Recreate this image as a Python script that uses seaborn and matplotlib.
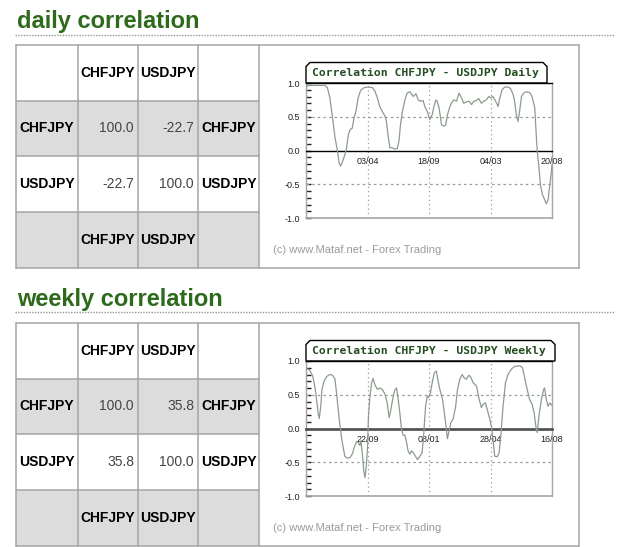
import matplotlib
matplotlib.use("Agg")
import matplotlib.pyplot as plt
import seaborn as sns
import pandas as pd
from matplotlib.patches import Rectangle, Polygon
from matplotlib.ticker import MultipleLocator

# ---------------- data ----------------
pairs = ["CHFJPY", "USDJPY"]
daily_corr = [[100.0, -22.7], [-22.7, 100.0]]
weekly_corr = [[100.0, 35.8], [35.8, 100.0]]

x_ticks = [25, 50, 75, 100]
daily_tick_labels = ["03/04", "18/09", "04/03", "20/08"]
weekly_tick_labels = ["22/09", "08/01", "28/04", "16/08"]
y_ticks = [-1.0, -0.5, 0.0, 0.5, 1.0]
y_tick_labels = ["-1.0", "-0.5", "0.0", "0.5", "1.0"]

daily_x = [0, 1.6, 7.7, 8.7, 9.7, 10.7, 11.8, 12.7, 13.5, 14.1,
           14.9, 15.8, 16.5, 17.2, 17.9, 18.8, 19.5, 20.3, 21.2, 22.2,
           23.5, 25.3, 27.1, 28.0, 29.0, 30.0, 31.0, 32.1, 32.7, 33.4,
           34.1, 35.2, 36.1, 37.1, 37.8, 38.4, 39.2, 40.2, 41.1, 42.2,
           43.6, 44.7, 45.6, 46.5, 47.6, 48.3, 49.3, 50.3, 51.3, 52.0,
           52.8, 53.3, 54.1, 55.1, 56.0, 56.8, 57.5, 58.5, 59.1, 60.1,
           61.2, 62.2, 63.2, 64.1, 65.2, 66.3, 67.3, 68.2, 69.3, 70.2,
           71.3, 72.3, 73.3, 74.3, 75.1, 76.0, 77.1, 78.1, 78.8, 79.7,
           80.8, 82.1, 83.1, 84.2, 84.8, 85.5, 86.2, 86.9, 87.6, 88.5,
           89.6, 90.9, 91.9, 93.0, 93.6, 94.0, 94.7, 95.3, 96.1, 97.0,
           97.7, 98.4, 99.1, 99.6, 100]
daily_y = [0.95, 0.965, 0.965, 0.93, 0.78, 0.51, 0.19, 0.01, -0.19, -0.23,
           -0.16, -0.06, 0.04, 0.23, 0.31, 0.33, 0.48, 0.58, 0.78, 0.89,
           0.93, 0.94, 0.93, 0.88, 0.78, 0.65, 0.58, 0.51, 0.43, 0.21,
           0.04, 0.04, 0.02, 0.03, 0.14, 0.38, 0.58, 0.75, 0.85, 0.87,
           0.80, 0.84, 0.75, 0.73, 0.74, 0.65, 0.58, 0.46, 0.53, 0.65,
           0.75, 0.73, 0.63, 0.38, 0.36, 0.38, 0.53, 0.65, 0.70, 0.75,
           0.73, 0.85, 0.78, 0.70, 0.72, 0.73, 0.68, 0.73, 0.74, 0.77,
           0.70, 0.73, 0.75, 0.80, 0.78, 0.80, 0.73, 0.65, 0.78, 0.90,
           0.94, 0.94, 0.92, 0.83, 0.73, 0.53, 0.43, 0.60, 0.80, 0.85,
           0.87, 0.86, 0.80, 0.63, 0.23, -0.01, -0.26, -0.51, -0.65, -0.73,
           -0.79, -0.73, -0.51, -0.36, -0.21]

weekly_x = [0, 1.4, 2.7, 3.7, 4.3, 5.0, 5.4, 6.0, 6.5, 7.3,
            8.4, 9.7, 10.8, 11.8, 12.4, 13.1, 13.8, 14.5, 15.2, 15.8,
            16.8, 17.9, 18.8, 19.6, 20.6, 21.2, 21.9, 22.3, 22.9, 23.5,
            24.0, 24.5, 25.0, 25.4, 26.0, 26.7, 27.3, 28.0, 29.0, 30.0,
            31.0, 32.1, 33.0, 33.8, 34.4, 35.2, 36.0, 36.8, 37.5, 38.2,
            38.8, 39.5, 40.2, 40.9, 41.5, 42.2, 42.9, 43.6, 44.5, 45.3,
            46.3, 47.2, 47.9, 48.6, 49.3, 49.9, 50.6, 51.4, 52.2, 53.0,
            53.7, 54.4, 55.5, 56.4, 57.5, 58.2, 58.9, 59.8, 60.8, 61.6,
            62.5, 63.5, 64.3, 65.2, 66.2, 67.0, 67.9, 69.3, 70.4, 71.3,
            72.0, 72.9, 73.7, 74.7, 75.4, 76.0, 76.7, 77.7, 78.5, 79.2,
            80.1, 81.1, 82.1, 83.5, 84.8, 86.9, 88.0, 88.9, 89.9, 90.9,
            91.9, 92.7, 93.6, 94.0, 94.7, 95.7, 96.6, 97.0, 97.7, 98.4,
            99.1, 100]
weekly_y = [0.89, 0.87, 0.78, 0.60, 0.43, 0.21, 0.15, 0.33, 0.58, 0.70,
            0.77, 0.80, 0.79, 0.73, 0.53, 0.28, 0.04, -0.15, -0.30, -0.41,
            -0.44, -0.43, -0.38, -0.28, -0.19, -0.21, -0.25, -0.18, -0.37, -0.63,
            -0.73, -0.56, -0.30, 0.19, 0.48, 0.68, 0.74, 0.65, 0.58, 0.60,
            0.58, 0.51, 0.38, 0.16, 0.26, 0.43, 0.56, 0.60, 0.43, 0.21,
            -0.01, -0.10, -0.10, -0.21, -0.33, -0.38, -0.33, -0.36, -0.41, -0.46,
            -0.41, -0.36, -0.06, 0.33, 0.48, 0.46, 0.53, 0.70, 0.83, 0.85,
            0.70, 0.58, 0.43, 0.19, -0.15, -0.03, 0.09, 0.14, 0.32, 0.58,
            0.73, 0.80, 0.75, 0.73, 0.79, 0.76, 0.68, 0.63, 0.43, 0.31,
            0.36, 0.38, 0.28, 0.14, 0.02, -0.15, -0.41, -0.42, -0.36, -0.10,
            0.33, 0.68, 0.80, 0.88, 0.92, 0.93, 0.90, 0.75, 0.58, 0.43,
            0.36, 0.24, -0.01, -0.06, 0.19, 0.43, 0.58, 0.60, 0.43, 0.33,
            0.38, 0.34]

# ---------------- style ----------------
sns.set_style("white")
plt.rcParams["font.family"] = ["Liberation Sans", "DejaVu Sans"]

W, H = 625, 547
fig = plt.figure(figsize=(W / 100, H / 100), dpi=100)
fig.patch.set_facecolor("white")

bg = fig.add_axes([0, 0, 1, 1])
bg.set_xlim(0, W)
bg.set_ylim(H, 0)
bg.axis("off")
bg.set_zorder(0)

GREEN = "#2d6a1b"
GRID = "#9a9a9a"
BORDER = "#a4a4a4"
CELL_GRAY = "#dcdcdc"
LINE_COLOR = "#8c9c8c"
NARROW = ["Liberation Sans Narrow", "Liberation Sans", "DejaVu Sans"]

cols = [16, 78, 138, 198, 259, 579]
row_offsets = [0, 55.5, 111, 166.5, 222.5]

sections = [
    dict(title="daily correlation", base=28, rule=35, top=45, corr=daily_corr,
         x=daily_x, y=daily_y, labels=daily_tick_labels,
         box_title="Correlation CHFJPY - USDJPY Daily", box_right=547,
         zero_color="black", zero_lw=1.0),
    dict(title="weekly correlation", base=306, rule=312, top=323, corr=weekly_corr,
         x=weekly_x, y=weekly_y, labels=weekly_tick_labels,
         box_title="Correlation CHFJPY - USDJPY Weekly", box_right=555,
         zero_color="#555555", zero_lw=2.0),
]

for s in sections:
    # section heading
    bg.text(17, s["base"], s["title"], fontsize=17, fontweight="bold",
            color=GREEN, va="baseline", ha="left")
    bg.plot([15, 615], [s["rule"], s["rule"]], color="#8f998c", lw=1.0,
            linestyle=(0, (1, 1)))

    top = s["top"]
    rows = [top + o for o in row_offsets]

    # cell fills
    for r in range(4):
        for c in range(4):
            fc = CELL_GRAY if r in (1, 3) else "white"
            bg.add_patch(Rectangle((cols[c], rows[r]), cols[c + 1] - cols[c],
                                   rows[r + 1] - rows[r], facecolor=fc,
                                   edgecolor="none", zorder=1))
    # grid lines
    for xx in cols:
        bg.plot([xx, xx], [rows[0], rows[-1]], color=BORDER, lw=1.1, zorder=2)
    for yy in rows[1:-1]:
        bg.plot([cols[0], cols[4]], [yy, yy], color=BORDER, lw=1.1, zorder=2)
    for yy in (rows[0], rows[-1]):
        bg.plot([cols[0], cols[-1]], [yy, yy], color=BORDER, lw=1.1, zorder=2)

    centers = [(rows[i] + rows[i + 1]) / 2 for i in range(4)]
    hdr = dict(fontsize=10, fontweight="bold", color="black", va="center",
               ha="center", zorder=3)
    num = dict(fontsize=10, color="#444444", va="center", ha="right", zorder=3)
    for j, p in enumerate(pairs):
        cx = (cols[j + 1] + cols[j + 2]) / 2
        bg.text(cx, centers[0], p, **hdr)
        bg.text(cx, centers[3], p, **hdr)
        bg.text((cols[0] + cols[1]) / 2, centers[1 + j], p, **hdr)
        bg.text((cols[3] + cols[4]) / 2, centers[1 + j], p, **hdr)
        for k in range(2):
            bg.text(cols[k + 2] - 4, centers[1 + j], f"{s['corr'][j][k]:.1f}", **num)

    # chart title box
    btop = top + 17.5
    ptop = top + 38
    pbot = top + 173
    br = s["box_right"]
    bg.add_patch(Polygon([(306, ptop), (306, btop + 4), (310, btop),
                          (br - 4, btop), (br, btop + 4), (br, ptop)],
                         closed=True, facecolor="white", edgecolor="black",
                         lw=1.0, zorder=3))
    bg.text(312, (btop + ptop) / 2 + 0.5, s["box_title"], family="DejaVu Sans Mono",
            fontweight="bold", fontsize=8.2, color="#244d22", va="center",
            ha="left", zorder=4)
    bg.text(273, top + 205, "(c) www.Mataf.net - Forex Trading", fontsize=8,
            color="#9a9a9a", va="center", ha="left", zorder=3)

    # the line chart
    ax = fig.add_axes([306 / W, 1 - pbot / H, 246 / W, (pbot - ptop) / H])
    ax.set_zorder(1)
    ax.patch.set_alpha(0)
    df = pd.DataFrame({"t": s["x"], "corr": s["y"]})
    sns.lineplot(data=df, x="t", y="corr", ax=ax, color=LINE_COLOR, lw=0.9,
                 zorder=3)
    ax.set_xlim(0, 100)
    ax.set_ylim(-1, 1)
    ax.set_xlabel("")
    ax.set_ylabel("")

    ax.spines["bottom"].set_position(("data", 0))
    ax.spines["bottom"].set_color(s["zero_color"])
    ax.spines["bottom"].set_linewidth(s["zero_lw"])
    ax.spines["bottom"].set_zorder(2.5)
    for side in ("left", "right"):
        ax.spines[side].set_color(BORDER)
        ax.spines[side].set_linewidth(1.0)
    ax.spines["top"].set_color("black")
    ax.spines["top"].set_linewidth(1.0)
    ax.axhline(-1, color=BORDER, lw=1.2, clip_on=False)

    ax.set_xticks(x_ticks)
    ax.set_xticklabels(s["labels"], family=NARROW, fontsize=6.5, color="#222222")
    ax.tick_params(axis="x", direction="in", length=4, width=1,
                   color="#333333", pad=5)
    ax.set_yticks(y_ticks)
    ax.set_yticklabels(y_tick_labels, family=NARROW, fontsize=6.5, color="#222222")
    ax.yaxis.set_minor_locator(MultipleLocator(0.1))
    ax.tick_params(axis="y", which="both", direction="in", length=3.5, width=1,
                   color="#222222", pad=4.5, left=True)

    ax.grid(False)
    ax.xaxis.grid(True, color=GRID, lw=0.9, linestyle=(0, (1, 2.5)))
    for yv in (-0.5, 0.5):
        ax.axhline(yv, color=GRID, lw=0.9, linestyle=(0, (2, 2.5)), zorder=1)

fig.savefig("out.png", dpi=100, facecolor="white")
